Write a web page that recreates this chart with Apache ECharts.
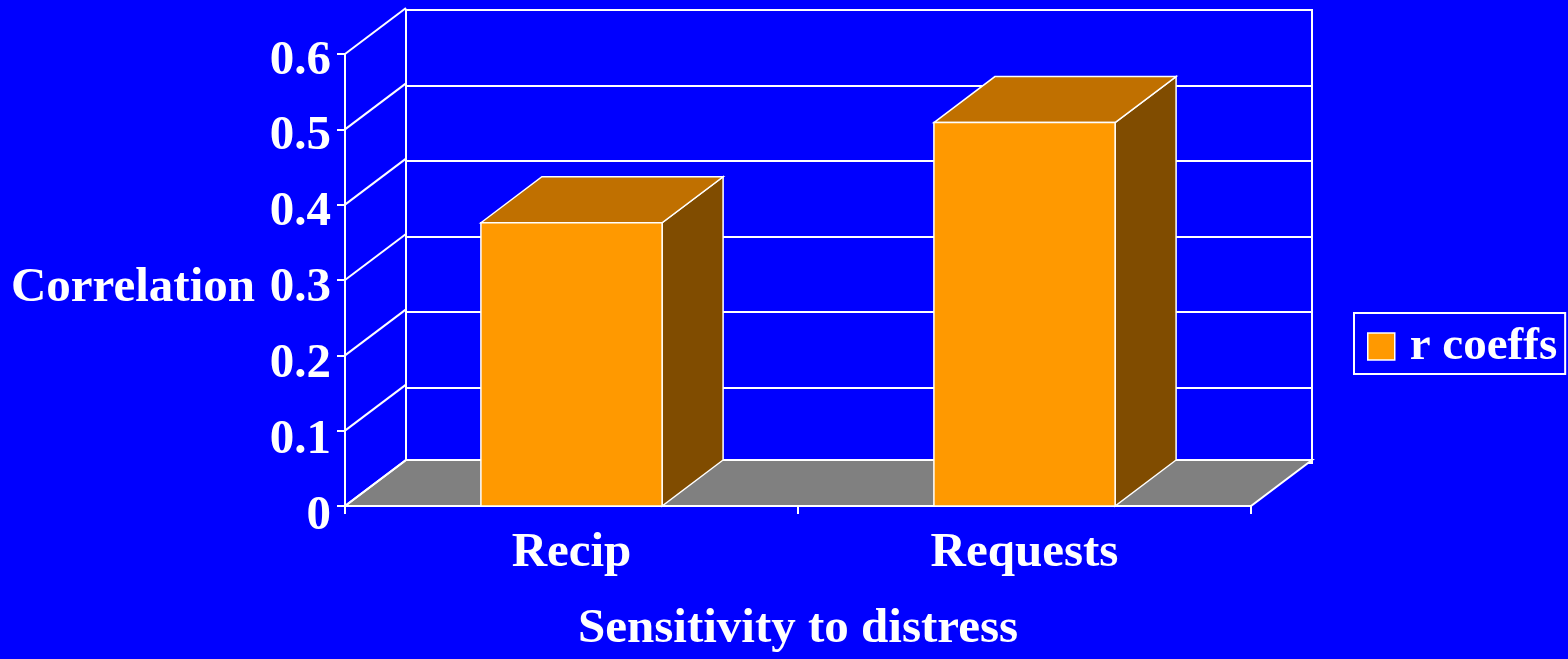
<!DOCTYPE html>
<html><head><meta charset="utf-8">
<script src="https://cdn.jsdelivr.net/npm/echarts@6/dist/echarts.min.js"></script>
<style>html,body{margin:0;padding:0;background:#0000FF}#c{width:1568px;height:659px}</style>
</head><body><div id="c"></div>
<script>
// ---- data ----
const categories = ['Recip', 'Requests'];
const rCoeffs = [0.376, 0.509];
const yTicks = [0, 0.1, 0.2, 0.3, 0.4, 0.5, 0.6];
const seriesName = 'r coeffs';
const xTitle = 'Sensitivity to distress';
const yTitle = 'Correlation';

// ---- style ----
const DX = 61, DY = -46;          // pseudo-3D depth offset (px)
const FONT = '"Liberation Serif", "Times New Roman", serif';
const WHITE = '#FFFFFF';
const C_FRONT = '#FF9900', C_TOP = '#C07000', C_SIDE = '#804C00', C_FLOOR = '#808080';

const chart = echarts.init(document.getElementById('c'), null, {renderer: 'canvas'});

const txt = (extra) => Object.assign({color: WHITE, fontFamily: FONT, fontWeight: 'bold', fontSize: 49}, extra || {});

const option = {
  backgroundColor: '#0000FF',
  animation: false,
  legend: {
    data: [{name: seriesName, icon: 'rect'}],
    left: 1354, top: 313,
    orient: 'vertical',
    padding: [10, 8, 4, 13],
    borderColor: WHITE, borderWidth: 2,
    itemWidth: 27, itemHeight: 27,
    itemStyle: {color: C_FRONT, borderColor: WHITE, borderWidth: 1.5},
    textStyle: txt({fontSize: 47, padding: [0, 0, 0, 10]})
  },
  grid: [
    {left: 345, right: 317, top: 54, bottom: 150, containLabel: false},
    {left: 406, right: 256, top: 10, bottom: 196, containLabel: false, show: true,
     borderColor: WHITE, borderWidth: 2, backgroundColor: 'transparent'},
    // label grid: same as the front plane, nudged down so glyphs sit centred on the ticks
    {left: 345, right: 317, top: 61, bottom: 143, containLabel: false}
  ],
  xAxis: [
    {type: 'category', gridIndex: 0, data: categories,
     axisLine: {lineStyle: {color: WHITE, width: 2}},
     axisTick: {show: true, length: 8, lineStyle: {color: WHITE, width: 2}},
     axisLabel: txt({margin: 23}),
     name: xTitle, nameLocation: 'middle', nameGap: 99, nameTextStyle: txt()},
    {type: 'value', gridIndex: 1, min: 0, max: 1, show: false},
    {type: 'value', gridIndex: 2, min: 0, max: 1, show: false}
  ],
  yAxis: [
    {type: 'value', gridIndex: 0, min: 0, max: 0.6, interval: 0.1,
     axisLine: {show: true, lineStyle: {color: WHITE, width: 2}},
     axisTick: {show: true, length: 8, lineStyle: {color: WHITE, width: 2}},
     splitLine: {show: false},
     axisLabel: {show: false}},
    {type: 'value', gridIndex: 1, min: 0, max: 0.6, interval: 0.1,
     axisLine: {show: true, lineStyle: {color: WHITE, width: 2}},
     axisTick: {show: false}, axisLabel: {show: false},
     splitLine: {show: true, lineStyle: {color: WHITE, width: 2}}},
    {type: 'value', gridIndex: 2, min: 0, max: 0.6, interval: 0.1,
     axisLine: {show: false}, axisTick: {show: false}, splitLine: {show: false},
     axisLabel: txt({margin: 14}),
     name: yTitle, nameLocation: 'middle', nameRotate: 0, nameGap: 90, nameTextStyle: txt()}
  ],
  series: [
    { // floor
      type: 'custom', xAxisIndex: 0, yAxisIndex: 0, z: 2, silent: true,
      data: [[0, 0]],
      renderItem: function (params, api) {
        const cs = params.coordSys;
        const y0 = api.coord([0, 0])[1];
        const xl = cs.x, xr = cs.x + cs.width;
        return {type: 'polygon',
          shape: {points: [[xl, y0], [xr, y0], [xr + DX, y0 + DY], [xl + DX, y0 + DY]]},
          style: {fill: C_FLOOR, stroke: WHITE, lineWidth: 2}};
      }
    },
    { // left wall diagonals
      type: 'custom', xAxisIndex: 0, yAxisIndex: 0, z: 3, silent: true,
      data: yTicks.map(v => [0, v]),
      renderItem: function (params, api) {
        const cs = params.coordSys;
        const y = api.coord([0, api.value(1)])[1];
        return {type: 'line',
          shape: {x1: cs.x, y1: y, x2: cs.x + DX, y2: y + DY},
          style: {stroke: WHITE, lineWidth: 2}};
      }
    },
    { // 3D bars
      name: seriesName, type: 'custom', xAxisIndex: 0, yAxisIndex: 0, z: 4,
      itemStyle: {color: C_FRONT},
      data: rCoeffs.map((v, i) => [i, v]),
      renderItem: function (params, api) {
        const top = api.coord([api.value(0), api.value(1)]);
        const base = api.coord([api.value(0), 0]);
        const w = api.size([1, 0])[0] * 0.4;
        const x0 = top[0] - w / 2, x1 = top[0] + w / 2, yt = top[1], yb = base[1];
        const st = (f) => ({fill: f, stroke: WHITE, lineWidth: 1.5});
        return {type: 'group', children: [
          {type: 'polygon', shape: {points: [[x1, yt], [x1 + DX, yt + DY], [x1 + DX, yb + DY], [x1, yb]]}, style: st(C_SIDE)},
          {type: 'polygon', shape: {points: [[x0, yt], [x0 + DX, yt + DY], [x1 + DX, yt + DY], [x1, yt]]}, style: st(C_TOP)},
          {type: 'polygon', shape: {points: [[x0, yt], [x1, yt], [x1, yb], [x0, yb]]}, style: st(C_FRONT)}
        ]};
      }
    }
  ]
};
chart.setOption(option);
</script></body></html>
